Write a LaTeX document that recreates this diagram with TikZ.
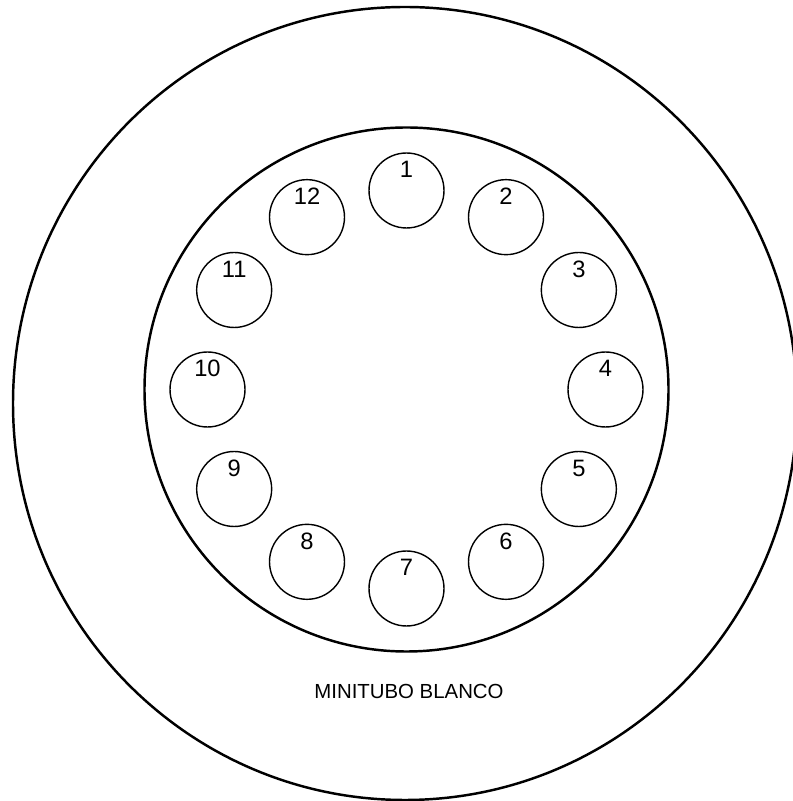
\documentclass[tikz,border=0pt]{standalone}
\usepackage{fontspec}
\setmainfont{Liberation Sans}
\usetikzlibrary{positioning, calc}

\begin{document}
\begin{tikzpicture}[
    x=0.02cm, y=0.02cm,
    rim/.style={draw=black, line width=1.4pt},
    hole/.style={circle, draw=black, line width=0.8pt, minimum size=1.5cm, inner sep=0pt},
    num/.style={font=\fontsize{13.5}{13.5}\selectfont, inner sep=0pt},
    caption/.style={font=\fontsize{11.6}{11.6}\selectfont, inner sep=0pt}
]
    \useasboundingbox (0,0) rectangle (793,801);

    % Outer disc and inner ring
    \draw[rim] (405,397.5) ellipse [x radius=392, y radius=396.5];
    \coordinate (c) at (406.5,411.5);
    \draw[rim] (c) circle [radius=262];

    % Twelve tube holes, clockwise from the top
    \foreach \i in {1,...,12} {
        \node[hole] (h\i) at ($(c)+({90-30*(\i-1)}:199)$) {};
        \node[num] (n\i) at ([yshift=0.42cm]h\i.center) {\i};
    }

    % Caption
    \node[caption] (title) at (409,110) {MINITUBO BLANCO};
\end{tikzpicture}
\end{document}
